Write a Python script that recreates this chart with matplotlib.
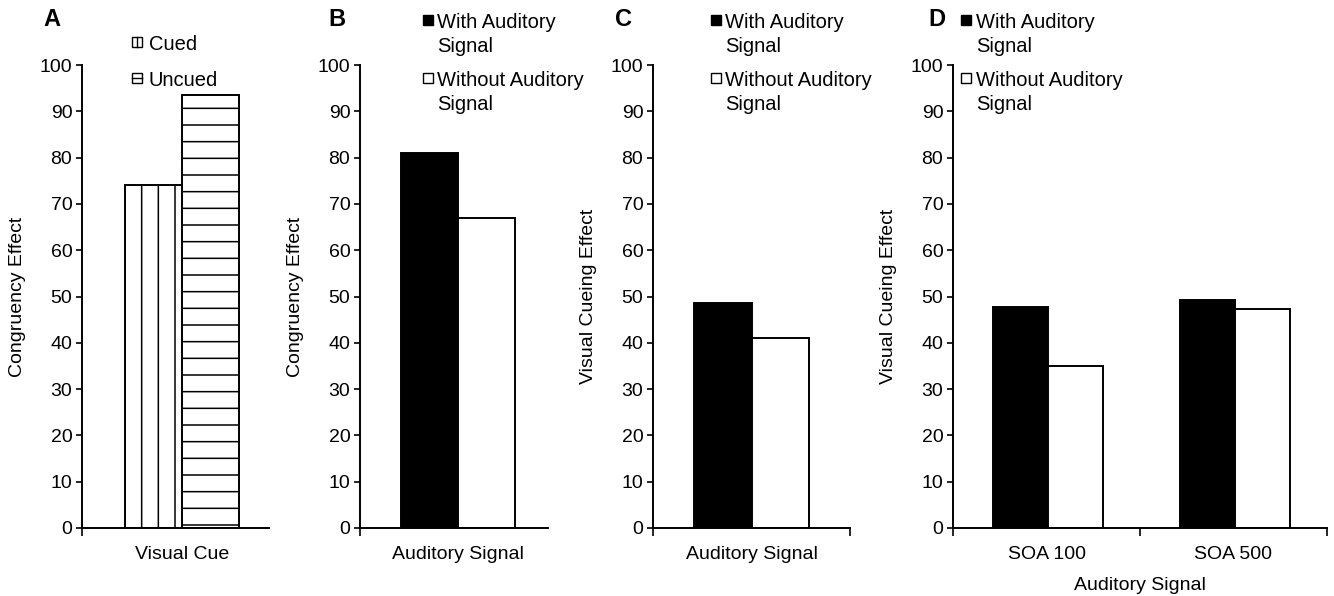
import numpy as np
import matplotlib
matplotlib.use('Agg')
import matplotlib.pyplot as plt
from matplotlib.patches import Rectangle
from matplotlib.lines import Line2D

plt.rcParams['font.family'] = ['Liberation Sans', 'DejaVu Sans']
plt.rcParams['hatch.linewidth'] = 1.1

# data
a_cats = ['Visual Cue']
a_cued = [74.0]
a_uncued = [93.5]

b_cats = ['Auditory Signal']
b_with = [81.0]
b_without = [67.0]

c_cats = ['Auditory Signal']
c_with = [48.5]
c_without = [41.0]

d_cats = ['SOA 100', 'SOA 500']
d_with = [47.8, 49.3]
d_without = [35.0, 47.2]

yticks = np.arange(0, 101, 10)

W, H = 1334, 596
FS = 14
fig = plt.figure(figsize=(W / 100, H / 100), dpi=100)


def px_axes(x0, x1, y_top=65, y_bot=528):
    return fig.add_axes([x0 / W, (H - y_bot) / H, (x1 - x0) / W, (y_bot - y_top) / H])


ax_a = px_axes(82, 269)
ax_b = px_axes(360, 548)
ax_c = px_axes(653, 850)
ax_d = px_axes(953, 1327)


def style_axis(ax, cats, ylabel, xlim, xticks):
    n = len(cats)
    ax.set_xlim(*xlim)
    ax.set_ylim(0, 100)
    ax.set_yticks(yticks)
    ax.tick_params(axis='y', labelsize=FS, length=4, width=1.2, direction='out', pad=3)
    ax.set_xticks(xticks)
    ax.set_xticklabels([])
    ax.tick_params(axis='x', which='major', length=6, width=1.2, direction='out')
    ax.set_xticks(np.arange(n) + 0.5, minor=True)
    ax.set_xticklabels(cats, minor=True, fontsize=FS)
    ax.tick_params(axis='x', which='minor', length=0, pad=13)
    for s in ['top', 'right']:
        ax.spines[s].set_visible(False)
    for s in ['left', 'bottom']:
        ax.spines[s].set_linewidth(1.4)
    ax.set_ylabel(ylabel, fontsize=FS, labelpad=10)


def paired_bars(ax, xs, left_vals, right_vals, w, left_kw, right_kw):
    xs = np.asarray(xs)
    ax.bar(xs - w / 2, left_vals, w, edgecolor='black', linewidth=1.4, **left_kw)
    ax.bar(xs + w / 2, right_vals, w, edgecolor='black', linewidth=1.4, **right_kw)


def legend_px(entries, px, text_x, line_centers, size=10):
    # entries: (label, facecolor, inner line 'v'/'h'/None), line_centers: y of each text line
    k = 0
    for label, fc, inner in entries:
        lines = label.split('\n')
        yc = line_centers[k]
        fig.add_artist(Rectangle((px / W, (H - yc - size / 2) / H), size / W, size / H,
                                 facecolor=fc, edgecolor='black', linewidth=1.0,
                                 transform=fig.transFigure))
        if inner == 'v':
            fig.add_artist(Line2D([(px + size / 2) / W] * 2,
                                  [(H - yc - size / 2) / H, (H - yc + size / 2) / H],
                                  color='black', linewidth=1.0, transform=fig.transFigure))
        elif inner == 'h':
            fig.add_artist(Line2D([px / W, (px + size) / W], [(H - yc) / H] * 2,
                                  color='black', linewidth=1.0, transform=fig.transFigure))
        for line in lines:
            fig.text(text_x / W, (H - line_centers[k]) / H, line, fontsize=FS + 0.5,
                     ha='left', va='center_baseline')
            k += 1


# panel A
xa = np.arange(len(a_cats)) + 0.5
paired_bars(ax_a, xa, a_cued, a_uncued, 0.305,
            dict(facecolor='white', hatch='|'), dict(facecolor='white', hatch='-'))
style_axis(ax_a, a_cats, 'Congruency Effect', (-0.035, 0.965), [-0.035])
legend_px([('Cued', 'white', 'v'), ('Uncued', 'white', 'h')], 132, 149, [42, 78])

bcd_entries = [('With Auditory\nSignal', 'black', None),
               ('Without Auditory\nSignal', 'white', None)]
bcd_lines = [20, 45, 78, 103]

# panel B
xb = np.arange(len(b_cats)) + 0.5
paired_bars(ax_b, xb, b_with, b_without, 0.303,
            dict(facecolor='black'), dict(facecolor='white'))
style_axis(ax_b, b_cats, 'Congruency Effect', (-0.021, 0.979), [-0.021])
legend_px(bcd_entries, 423, 437, bcd_lines)

# panel C
xc = np.arange(len(c_cats)) + 0.5
paired_bars(ax_c, xc, c_with, c_without, 0.29,
            dict(facecolor='black'), dict(facecolor='white'))
style_axis(ax_c, c_cats, 'Visual Cueing Effect', (0, 1), [0, 1])
legend_px(bcd_entries, 711, 725, bcd_lines)

# panel D
xd = np.arange(len(d_cats)) + 0.51
paired_bars(ax_d, xd, d_with, d_without, 0.294,
            dict(facecolor='black'), dict(facecolor='white'))
style_axis(ax_d, d_cats, 'Visual Cueing Effect', (0, 2), [0, 1, 2])
ax_d.set_xlabel('Auditory Signal', fontsize=FS, labelpad=10)
legend_px(bcd_entries, 961, 976, bcd_lines)

# panel letters
for x, letter in [(52, 'A'), (337, 'B'), (624, 'C'), (937, 'D')]:
    fig.text(x / W, 1 - 20 / H, letter, fontsize=17, fontweight='bold',
             ha='center', va='center')

fig.savefig('out.png', dpi=100)
